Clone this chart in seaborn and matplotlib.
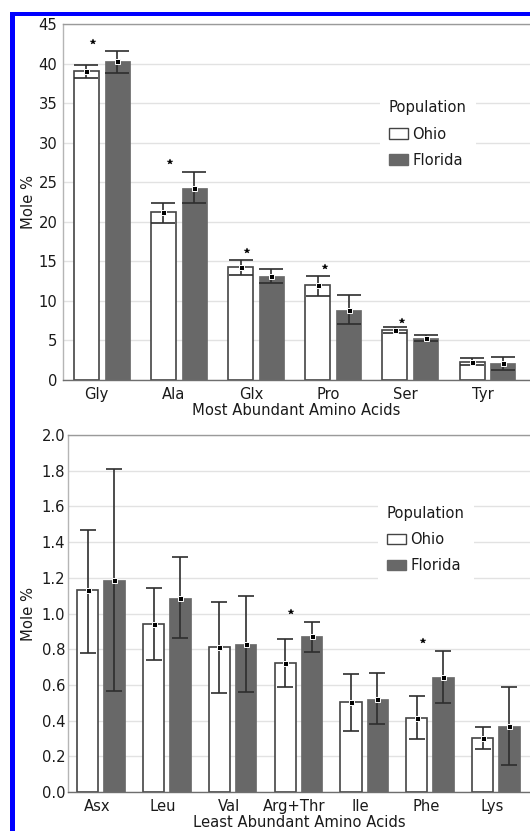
import matplotlib
matplotlib.use('Agg')
import matplotlib.pyplot as plt
import seaborn as sns
import pandas as pd
import numpy as np
from matplotlib.patches import Patch, Rectangle

# ---------------- data ----------------
top_acids = ['Gly', 'Ala', 'Glx', 'Pro', 'Ser', 'Tyr']
top_ohio = [39.0, 21.2, 14.25, 11.95, 6.3, 2.32]
top_ohio_lo = [38.2, 19.9, 13.25, 10.6, 6.0, 1.88]
top_ohio_hi = [39.8, 22.35, 15.2, 13.2, 6.65, 2.84]
top_fl = [40.35, 24.3, 13.15, 8.9, 5.35, 2.17]
top_fl_lo = [38.8, 22.4, 12.3, 7.05, 4.98, 1.26]
top_fl_hi = [41.6, 26.3, 14.0, 10.75, 5.7, 2.94]
top_star_acids = ['Gly', 'Ala', 'Glx', 'Pro', 'Ser']
top_star_y = [42.7, 27.5, 16.3, 14.3, 7.5]
top_yticks = [0, 5, 10, 15, 20, 25, 30, 35, 40, 45]

bot_acids = ['Asx', 'Leu', 'Val', 'Arg+Thr', 'Ile', 'Phe', 'Lys']
bot_ohio = [1.13, 0.94, 0.814, 0.724, 0.502, 0.416, 0.304]
bot_ohio_lo = [0.78, 0.74, 0.553, 0.59, 0.343, 0.295, 0.241]
bot_ohio_hi = [1.47, 1.145, 1.066, 0.855, 0.661, 0.538, 0.366]
bot_fl = [1.185, 1.085, 0.829, 0.876, 0.521, 0.644, 0.37]
bot_fl_lo = [0.566, 0.863, 0.559, 0.786, 0.379, 0.497, 0.151]
bot_fl_hi = [1.81, 1.315, 1.10, 0.954, 0.665, 0.792, 0.59]
bot_star_acids = ['Arg+Thr', 'Phe']
bot_star_y = [1.01, 0.846]
bot_yticks = [0.0, 0.2, 0.4, 0.6, 0.8, 1.0, 1.2, 1.4, 1.6, 1.8, 2.0]

populations = ['Ohio', 'Florida']

# ---------------- style ----------------
FL = '#686868'
EDGE = '#444444'
ERR = '#2e2e2e'
FS = 10.6

sns.set_theme(style='white')
plt.rcParams['font.family'] = ['DejaVu Sans']

W, H = 530, 831
fig = plt.figure(figsize=(W / 100, H / 100), dpi=100)
fig.patch.set_facecolor('white')

ax1 = fig.add_axes([63 / W, 1 - 380 / H, 1 - 63 / W, (380 - 24) / H])
ax2 = fig.add_axes([68 / W, 1 - 792 / H, 1 - 68 / W, (792 - 435) / H])


def panel(ax, acids, ohio, ohio_lo, ohio_hi, fl, fl_lo, fl_hi, star_acids, star_y,
          yticks, yfmt, xlabel, xlim, cap, leg_anchor, ylab_x, ytick_pad, xtick_shift):
    n = len(acids)
    df = pd.DataFrame({
        'acid': acids * 2,
        'Population': ['Ohio'] * n + ['Florida'] * n,
        'mole': ohio + fl,
    })
    sns.barplot(data=df, x='acid', y='mole', hue='Population', hue_order=populations,
                order=acids, palette={'Ohio': 'white', 'Florida': FL},
                errorbar=None, gap=0.19, saturation=1, legend=False, ax=ax, zorder=2)
    # bar edges
    for b in ax.containers[0]:
        b.set_edgecolor(EDGE)
        b.set_linewidth(1.2)
    for b in ax.containers[1]:
        b.set_edgecolor(FL)
        b.set_linewidth(0.5)

    centers = []
    for cont, m, lo, hi in zip(ax.containers, [ohio, fl], [ohio_lo, fl_lo], [ohio_hi, fl_hi]):
        xs = [b.get_x() + b.get_width() / 2 for b in cont]
        centers.append(xs)
        m = np.array(m); lo = np.array(lo); hi = np.array(hi)
        ax.errorbar(xs, m, yerr=[m - lo, hi - m], fmt='none', ecolor=ERR,
                    elinewidth=1.2, capsize=cap, capthick=1.2, zorder=3)
        ax.plot(xs, m, linestyle='none', marker='s', ms=3.6, mfc='black',
                mec='white', mew=0.7, zorder=4)

    # significance stars
    sx = [centers[0][acids.index(a)] + 0.09 for a in star_acids]
    ax.plot(sx, star_y, linestyle='none', marker='*', ms=4.3, color='black',
            mew=0.3, zorder=4)

    ax.set_xlim(*xlim)
    ax.set_ylim(yticks[0], yticks[-1])
    ax.set_yticks(yticks)
    ax.set_yticklabels([yfmt.format(v) for v in yticks])
    ax.set_xticks(np.arange(n) + xtick_shift)
    ax.set_xticklabels(acids)
    ax.tick_params(axis='both', length=0, labelsize=FS, colors='#1a1a1a')
    ax.tick_params(axis='y', pad=ytick_pad)
    ax.tick_params(axis='x', pad=5.0)
    ax.yaxis.grid(True, color='#e2e2e2', lw=1.0, zorder=0)
    ax.xaxis.grid(False)
    ax.set_axisbelow(True)
    ax.set_facecolor('white')

    ax.set_xlabel(xlabel, fontsize=FS, color='#1a1a1a', labelpad=1.0)
    ax.set_ylabel('Mole %', fontsize=FS, color='#1a1a1a')
    ax.yaxis.set_label_coords(ylab_x, 0.5)

    ax.spines['right'].set_visible(False)
    ax.spines['top'].set_color('#9a9a9a')
    ax.spines['top'].set_linewidth(1.0)
    ax.spines['left'].set_color('#b5b5b5')
    ax.spines['left'].set_linewidth(1.0)
    ax.spines['bottom'].set_color('#6e6e6e')
    ax.spines['bottom'].set_linewidth(1.0)

    handles = [Patch(facecolor='white', edgecolor=EDGE, linewidth=1.0, label='Ohio'),
               Patch(facecolor=FL, edgecolor=FL, label='Florida')]
    leg = ax.legend(handles=handles, title='Population', loc='upper left',
                    bbox_to_anchor=leg_anchor, borderaxespad=0, frameon=True,
                    fontsize=FS, title_fontsize=FS, alignment='left',
                    handlelength=1.3, handleheight=0.7, handletextpad=0.3,
                    labelspacing=0.75, borderpad=0.6, framealpha=1, fancybox=False)
    leg.get_frame().set_edgecolor('none')
    leg.get_frame().set_facecolor('white')
    for t in leg.get_texts():
        t.set_color('#1a1a1a')
    leg.get_title().set_color('#1a1a1a')


panel(ax1, top_acids, top_ohio, top_ohio_lo, top_ohio_hi, top_fl, top_fl_lo, top_fl_hi,
      top_star_acids, top_star_y, top_yticks, '{:d}', 'Most Abundant Amino Acids',
      (-0.5, 5.55), 8.3, (0.679, 0.81), -(63 - 36) / 467, 4.0, -0.065)
panel(ax2, bot_acids, bot_ohio, bot_ohio_lo, bot_ohio_hi, bot_fl, bot_fl_lo, bot_fl_hi,
      bot_star_acids, bot_star_y, bot_yticks, '{:.1f}', 'Least Abundant Amino Acids',
      (-0.5, 6.52), 6.1, (0.671, 0.826), -(68 - 36) / 462, 2.0, -0.06)

# blue frame (left and top edges)
fig.add_artist(Rectangle((10 / W, 0), 5 / W, (H - 12) / H, transform=fig.transFigure,
                         facecolor='#0000ff', edgecolor='none', zorder=10))
fig.add_artist(Rectangle((10 / W, 1 - 16 / H), (W - 10) / W, 4 / H, transform=fig.transFigure,
                         facecolor='#0000ff', edgecolor='none', zorder=10))

fig.savefig('out.png', dpi=100, facecolor='white')
